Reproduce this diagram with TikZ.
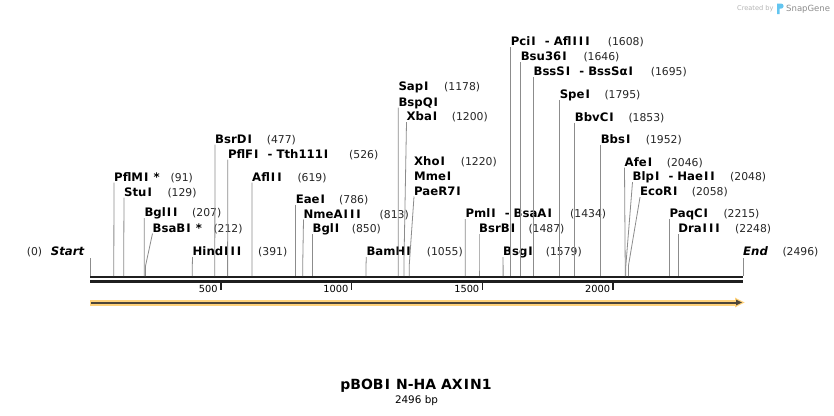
\documentclass[tikz,border=0pt]{standalone}
\usepackage{fontspec}
\setmainfont{DejaVu Sans}[BoldFont={DejaVu Sans Bold},ItalicFont={DejaVu Sans Oblique},BoldItalicFont={DejaVu Sans Bold Oblique}]
\usetikzlibrary{arrows.meta}
\definecolor{leadgray}{HTML}{8C8C8C}
\definecolor{featorange}{HTML}{FFD27A}
\definecolor{featdark}{HTML}{4E4639}
\definecolor{credgray}{HTML}{B4B4B4}
\definecolor{snapblue}{HTML}{63C5F0}
\newcommand\Iw{\kern0.085em I\kern0.085em}
\tikzset{
  lab/.style={inner sep=0pt, anchor=base west, font=\fontsize{11.7}{12}\selectfont\bfseries},
  num/.style={inner sep=0pt, anchor=base west, font=\fontsize{10.8}{12}\selectfont, text=black!85},
  leader/.style={draw=leadgray, line width=0.8pt},
  backbone/.style={line width=2.5pt, draw=black!88},
  tickmark/.style={line width=1.5pt, draw=black!88},
  ticklab/.style={inner sep=0pt, anchor=base east, font=\fontsize{9.8}{11}\selectfont},
}
% #1 id, #2 label x, #3 baseline y, #4 cut x, #5 text, #6 number x, #7 number, #8 baseline of lowest stacked label
\newcommand\site[8]{%
  \node[lab] (#1) at (#2pt,-#3pt) {#5};
  \node[num] (#1-n) at (#6pt,-#3pt) {(#7)};
  \coordinate (#1-a) at (#2pt,{-(#8pt+1.5pt)});
  \coordinate (#1-b) at (#4pt,-266pt);
  \coordinate (#1-c) at (#4pt,-276pt);
  \draw[leader] (#1-a) -- (#1-b) -- (#1-c);
}
\begin{document}
\begin{tikzpicture}
\useasboundingbox (0,0) rectangle (834pt,-415pt);
\fill[white] (0,0) rectangle (834pt,-415pt);

% credit
\node[font=\fontsize{6.6}{8}\selectfont, text=credgray, anchor=base west, inner sep=0pt] (credit) at (737pt,-10.5pt) {Created by};
\fill[snapblue] (777pt,-3.5pt) -- (781pt,-3.5pt) arc[start angle=90,end angle=-90,radius=2.6pt] -- (779.6pt,-8.7pt) -- (779.6pt,-14pt) -- (777pt,-14pt) -- cycle;
\node[font=\fontsize{8.5}{10}\selectfont, text=black!45, anchor=base west, inner sep=0pt] (snapgene) at (786pt,-11.5pt) {SnapGene};

% backbone
\coordinate (bb1s) at (90pt,-277.2pt);
\coordinate (bb1e) at (743pt,-277.2pt);
\coordinate (bb2s) at (90pt,-281.4pt);
\coordinate (bb2e) at (743pt,-281.4pt);
\draw[backbone] (bb1s) -- (bb1e);
\draw[backbone] (bb2s) -- (bb2e);

% ticks
\foreach \bp/\lbl in {500/500,1000/1000,1500/1500,2000/2000}{
  \pgfmathsetmacro{\tx}{90+\bp/2496*653}
  \coordinate (t\bp a) at (\tx pt,-282pt);
  \coordinate (t\bp b) at (\tx pt,-290pt);
  \draw[tickmark] (t\bp a) -- (t\bp b);
  \node[ticklab] (tl\bp) at (\tx pt - 3pt,-292pt) {\lbl};
}

% feature arrow
\coordinate (fa) at (90pt,-302.5pt);
\coordinate (fb) at (737pt,-302.5pt);
\coordinate (fc) at (91pt,-302.5pt);
\draw[line width=6pt, featorange] (fa) -- (fb);
\fill[featorange] (735pt,-297.6pt) -- (744.5pt,-302.5pt) -- (735pt,-307.4pt) -- cycle;
\draw[line width=2pt, featdark] (fc) -- (fb);
\fill[featdark] (736pt,-299.6pt) -- (742pt,-302.5pt) -- (736pt,-305.4pt) -- cycle;

% start / end
\node[num] (zero) at (26.7pt,-255.5pt) {(0)};
\node[lab, font=\fontsize{11.7}{12}\selectfont\bfseries\itshape] (start) at (50.7pt,-255.5pt) {Start};
\coordinate (startA) at (90pt,-258pt);
\coordinate (startB) at (90pt,-276pt);
\draw[leader] (startA) -- (startB);
\node[lab, font=\fontsize{11.7}{12}\selectfont\bfseries\itshape] (endl) at (743pt,-255.5pt) {End};
\node[num] (endn) at (782.3pt,-255.5pt) {(2496)};
\coordinate (endA) at (743pt,-258pt);
\coordinate (endB) at (743pt,-276pt);
\draw[leader] (endA) -- (endB);

% sites
\site{pflmi}{114}{181}{113.8}{PflM\Iw\ *}{170.5}{91}{181}
\site{stui}{124}{196}{123.7}{Stu\Iw}{167.3}{129}{196}
\site{bglii}{144.3}{216.5}{144.2}{Bgl\Iw\Iw}{192}{207}{216.5}
\site{bsabi}{152.5}{232}{145.5}{BsaB\Iw\ *}{213.3}{212}{232}
\site{hindiii}{192.5}{255.5}{192.3}{Hind\Iw\Iw\Iw}{258}{391}{255.5}
\site{bsrdi}{215}{143}{214.8}{BsrD\Iw}{266.7}{477}{143}
\site{pflfi}{227.8}{158}{227.6}{PflF\Iw\ \ -\ Tth111\Iw}{349}{526}{158}
\site{aflii}{252}{181}{251.9}{Afl\Iw\Iw}{297.3}{619}{181}
\site{eaei}{295.6}{203}{295.6}{Eae\Iw}{339}{786}{203}
\site{nmeaiii}{303.5}{218}{302.7}{NmeA\Iw\Iw\Iw}{379.5}{813}{218}
\site{bgli}{312.4}{232.7}{312.4}{Bgl\Iw}{351.7}{850}{232.7}
\site{bamhi}{366.3}{255.5}{366.0}{BamH\Iw}{426.7}{1055}{255.5}
\site{sapi}{398.3}{90.5}{398.2}{Sap\Iw}{444}{1178}{106}
\node[lab] (bspqi) at (398.3pt,-106pt) {BspQ\Iw};
\site{xbai}{406.5}{120.7}{403.9}{Xba\Iw}{451.7}{1200}{120.7}
\site{xhoi}{414}{165}{409.2}{Xho\Iw}{460.7}{1220}{195}
\node[lab] (mmei) at (414pt,-180pt) {Mme\Iw};
\node[lab] (paer7i) at (414pt,-195pt) {PaeR7\Iw};
\site{pmli}{465.3}{217.5}{465.2}{Pml\Iw\ \ -\ BsaA\Iw}{570}{1434}{217.5}
\site{bsrbi}{479}{232.7}{479.0}{BsrB\Iw}{528.3}{1487}{232.7}
\site{bsgi}{503}{255.5}{503.1}{Bsg\Iw}{545.7}{1579}{255.5}
\site{pcii}{510.7}{45.7}{510.7}{Pci\Iw\ \ -\ Afl\Iw\Iw\Iw}{607.7}{1608}{45.7}
\site{bsu}{520.6}{60.7}{520.6}{Bsu36\Iw}{583.3}{1646}{60.7}
\site{bsssi}{533.4}{75.7}{533.4}{BssS\Iw\ \ -\ BssSα\Iw}{650.7}{1695}{75.7}
\site{spei}{559.6}{98.3}{559.6}{Spe\Iw}{604.3}{1795}{98.3}
\site{bbvci}{574.7}{121}{574.7}{BbvC\Iw}{628.3}{1853}{121}
\site{bbsi}{600.6}{143.3}{600.6}{Bbs\Iw}{645.7}{1952}{143.3}
\site{afei}{624.5}{166}{625.2}{Afe\Iw}{666.7}{2046}{166}
\site{blpi}{632.5}{180.7}{625.8}{Blp\Iw\ \ -\ Hae\Iw\Iw}{730}{2048}{180.7}
\site{ecori}{640}{195.7}{628.4}{EcoR\Iw}{691.7}{2058}{195.7}
\site{paqci}{669.4}{217.3}{669.4}{PaqC\Iw}{723.3}{2215}{217.3}
\site{draiii}{678.1}{232.7}{678.1}{Dra\Iw\Iw\Iw}{735}{2248}{232.7}

% title
\node[font=\fontsize{14}{16}\selectfont\bfseries, anchor=base, inner sep=0pt] (title) at (416pt,-389pt) {pBOB\Iw\ N-HA AX\Iw N1};
\node[font=\fontsize{10.4}{12}\selectfont, anchor=base, inner sep=0pt] (size) at (416.5pt,-403pt) {2496 bp};
\end{tikzpicture}
\end{document}
